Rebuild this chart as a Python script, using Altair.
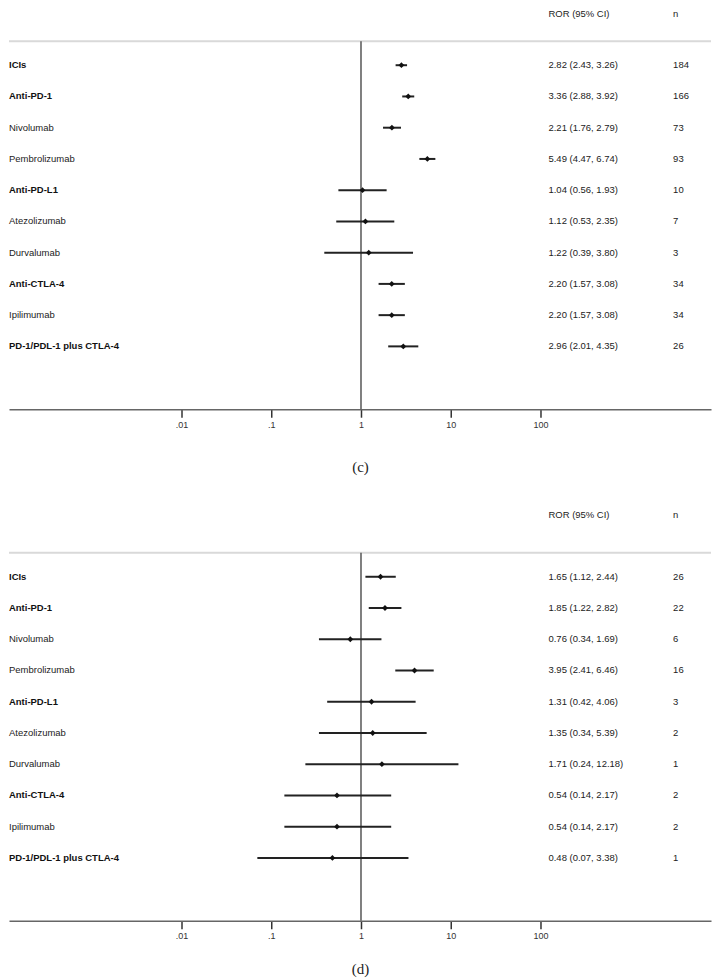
import altair as alt
import pandas as pd

# ---------------- data ----------------
drugs = ["ICIs", "Anti-PD-1", "Nivolumab", "Pembrolizumab", "Anti-PD-L1",
         "Atezolizumab", "Durvalumab", "Anti-CTLA-4", "Ipilimumab",
         "PD-1/PDL-1 plus CTLA-4"]
is_class = [True, True, False, False, True, False, False, True, False, True]

c_ror = [2.82, 3.36, 2.21, 5.49, 1.04, 1.12, 1.22, 2.20, 2.20, 2.96]
c_lo = [2.43, 2.88, 1.76, 4.47, 0.56, 0.53, 0.39, 1.57, 1.57, 2.01]
c_hi = [3.26, 3.92, 2.79, 6.74, 1.93, 2.35, 3.80, 3.08, 3.08, 4.35]
c_n = [184, 166, 73, 93, 10, 7, 3, 34, 34, 26]

d_ror = [1.65, 1.85, 0.76, 3.95, 1.31, 1.35, 1.71, 0.54, 0.54, 0.48]
d_lo = [1.12, 1.22, 0.34, 2.41, 0.42, 0.34, 0.24, 0.14, 0.14, 0.07]
d_hi = [2.44, 2.82, 1.69, 6.46, 4.06, 5.39, 12.18, 2.17, 2.17, 3.38]
d_n = [26, 22, 6, 16, 3, 2, 1, 2, 2, 1]

tick_values = [0.01, 0.1, 1, 10, 100]
tick_labels = [".01", ".1", "1", "10", "100"]
headers = ["ROR (95% CI)", "n"]
panel_titles = ["(c)", "(d)"]

# ---------------- layout ----------------
W = 704
H = 369
ONE_PX = 353      # pixel position of ROR = 1
DECADE_PX = 90    # pixels per decade
x_domain = [10 ** (-ONE_PX / DECADE_PX), 10 ** ((W - ONE_PX) / DECADE_PX)]
ROW_PX = 31.33
FIRST_ROW_PX = 24
y_domain = [-FIRST_ROW_PX / ROW_PX, (H - FIRST_ROW_PX) / ROW_PX]
COL_CI = 541
COL_N = 666
FONT = "Liberation Sans"
FS = 9.5
TICK = 8

label_expr = " : ".join(
    f"datum.value == {v} ? '{l}'" for v, l in zip(tick_values, tick_labels)
) + " : ''"

xs = alt.Scale(type="log", domain=x_domain, nice=False)
ys = alt.Scale(domain=y_domain, reverse=True, nice=False, zero=False)


def panel(ror, lo, hi, n, title, header_y, title_pad):
    df = pd.DataFrame({
        "drug": drugs, "row": list(range(len(drugs))),
        "ror": ror, "lo": lo, "hi": hi, "n": n, "cls": is_class,
    })
    df["ci"] = [f"{r:.2f} ({a:.2f}, {b:.2f})" for r, a, b in zip(ror, lo, hi)]
    df["n_txt"] = [str(v) for v in n]

    y = alt.Y("row:Q", scale=ys, axis=None)
    axis = alt.Axis(
        values=tick_values, labelExpr=label_expr, title=title,
        titleFont="Liberation Serif", titleFontSize=15, titleFontWeight="normal",
        titleColor="#222", titlePadding=title_pad,
        domainColor="#666", domainWidth=1.5,
        ticks=True, tickColor="#333", tickWidth=1.5, tickSize=TICK, tickOpacity=1,
        labelFont=FONT, labelFontSize=9, labelColor="#333", labelPadding=3,
        grid=False, labelFlush=False,
    )

    base = alt.Chart(df)

    top_rule = alt.Chart(pd.DataFrame({"k": [0]})).mark_rule(
        color="#d9d9d9", strokeWidth=2
    ).encode(x=alt.value(0), x2=alt.value(W), y=alt.value(0))

    ref = alt.Chart(pd.DataFrame({"ref": [1]})).mark_rule(
        color="#555", strokeWidth=1.5
    ).encode(x=alt.X("ref:Q", scale=xs, axis=axis))

    ci = base.mark_rule(color="#222", strokeWidth=2).encode(
        x=alt.X("lo:Q", scale=xs, axis=axis), x2="hi:Q", y=y
    )
    pts = base.mark_point(shape="diamond", filled=True, size=34,
                          color="#111", opacity=1).encode(
        x=alt.X("ror:Q", scale=xs), y=y
    )

    lab_b = base.transform_filter("datum.cls").mark_text(
        align="left", baseline="middle", font=FONT, fontSize=FS,
        fontWeight="bold", color="#111"
    ).encode(x=alt.value(0), y=y, text="drug:N")
    lab_n = base.transform_filter("!datum.cls").mark_text(
        align="left", baseline="middle", font=FONT, fontSize=FS, color="#222"
    ).encode(x=alt.value(0), y=y, text="drug:N")

    ci_txt = base.mark_text(
        align="left", baseline="middle", font=FONT, fontSize=FS, color="#222"
    ).encode(x=alt.value(COL_CI), y=y, text="ci:N")
    n_txt = base.mark_text(
        align="left", baseline="middle", font=FONT, fontSize=FS, color="#222"
    ).encode(x=alt.value(COL_N), y=y, text="n_txt:N")

    hdr_df = pd.DataFrame({"h": headers, "col": ["ci", "n"]})
    hdr1 = alt.Chart(hdr_df).transform_filter("datum.col == 'ci'").mark_text(
        align="left", baseline="middle", font=FONT, fontSize=FS, color="#222"
    ).encode(x=alt.value(COL_CI), y=alt.value(header_y), text="h:N")
    hdr2 = alt.Chart(hdr_df).transform_filter("datum.col == 'n'").mark_text(
        align="left", baseline="middle", font=FONT, fontSize=FS, color="#222"
    ).encode(x=alt.value(COL_N), y=alt.value(header_y), text="h:N")

    return alt.layer(
        top_rule, ref, ci, pts, lab_b, lab_n, ci_txt, n_txt, hdr1, hdr2
    ).properties(width=W, height=H)


chart = alt.vconcat(
    panel(c_ror, c_lo, c_hi, c_n, panel_titles[0], -27, 30),
    panel(d_ror, d_lo, d_hi, d_n, panel_titles[1], -38, 21),
    spacing=36,
).properties(
    padding={"left": 0, "top": 0, "right": 0, "bottom": 0}
).configure(background="white").configure_view(strokeWidth=0, stroke="transparent")

chart.save("out.html", embed_options={"renderer": "svg", "actions": False})
